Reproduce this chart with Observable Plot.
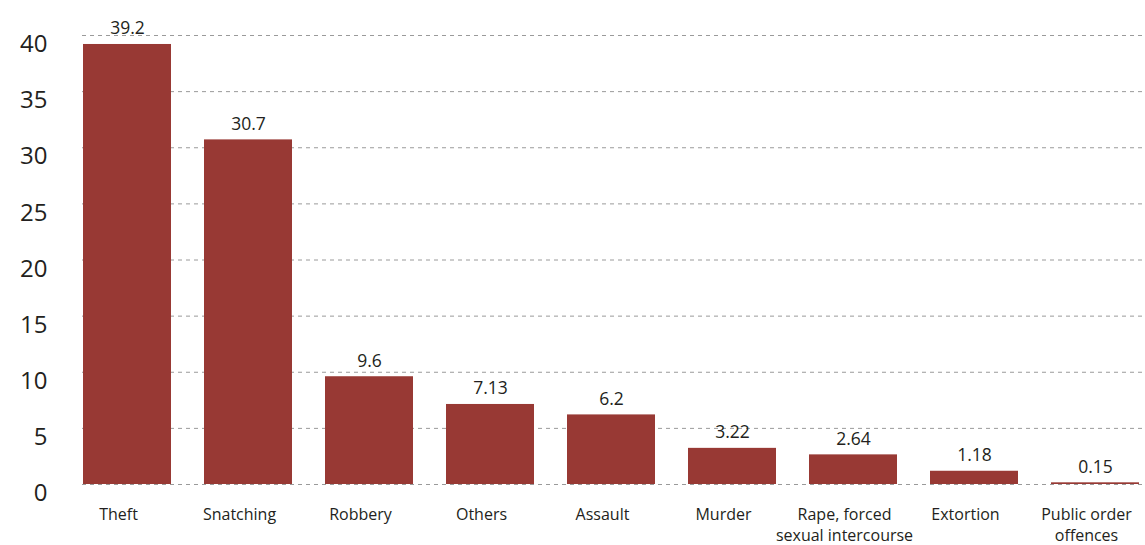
<!DOCTYPE html>
<html>
<head>
<meta charset="utf-8">
<script src="https://cdn.jsdelivr.net/npm/d3@7"></script>
<script src="https://cdn.jsdelivr.net/npm/@observablehq/plot@0.6"></script>
<style>
  html, body { margin: 0; padding: 0; background: #fff; }
  #chart svg { display: block; }
</style>
</head>
<body>
<div id="chart"></div>
<script>
const categories = ["Theft", "Snatching", "Robbery", "Others", "Assault", "Murder", "Rape, forced\nsexual intercourse", "Extortion", "Public order\noffences"];
const values = [39.2, 30.7, 9.6, 7.13, 6.2, 3.22, 2.64, 1.18, 0.15];
const valueLabels = ["39.2", "30.7", "9.6", "7.13", "6.2", "3.22", "2.64", "1.18", "0.15"];
const yTicks = [0, 5, 10, 15, 20, 25, 30, 35, 40];

const data = categories.map((c, i) => ({category: c, value: values[i], label: valueLabels[i]}));
const font = "'Open Sans', 'Noto Sans', sans-serif";
const barColor = "#983934";

const chart = Plot.plot({
  width: 1145,
  height: 545,
  marginLeft: 82,
  marginRight: 0,
  marginTop: 35,
  marginBottom: 61,
  style: {fontFamily: font, background: "#fff", color: "#231f20"},
  x: {domain: categories, range: [82, 1140], paddingInner: 0.274, paddingOuter: 0},
  y: {domain: [0, 40]},
  marks: [
    Plot.ruleY(yTicks, {stroke: "#9a9a9a", strokeWidth: 1, strokeDasharray: "4,4"}),
    Plot.barY(data, {x: "category", y: "value", fill: barColor}),
    Plot.text(data, {x: "category", y: "value", text: "label", lineAnchor: "bottom", dy: -10, fontSize: 17.5, fill: "#231f20"}),
    Plot.axisY({ticks: yTicks, tickSize: 0, tickPadding: 35, dy: 9, fontSize: 24, label: null, fill: "#231f20"}),
    Plot.axisX({tickSize: 0, tickPadding: 21, dx: -9, fontSize: 16, lineHeight: 1.3, label: null, fill: "#231f20"})
  ]
});
document.getElementById("chart").appendChild(chart);
</script>
</body>
</html>
